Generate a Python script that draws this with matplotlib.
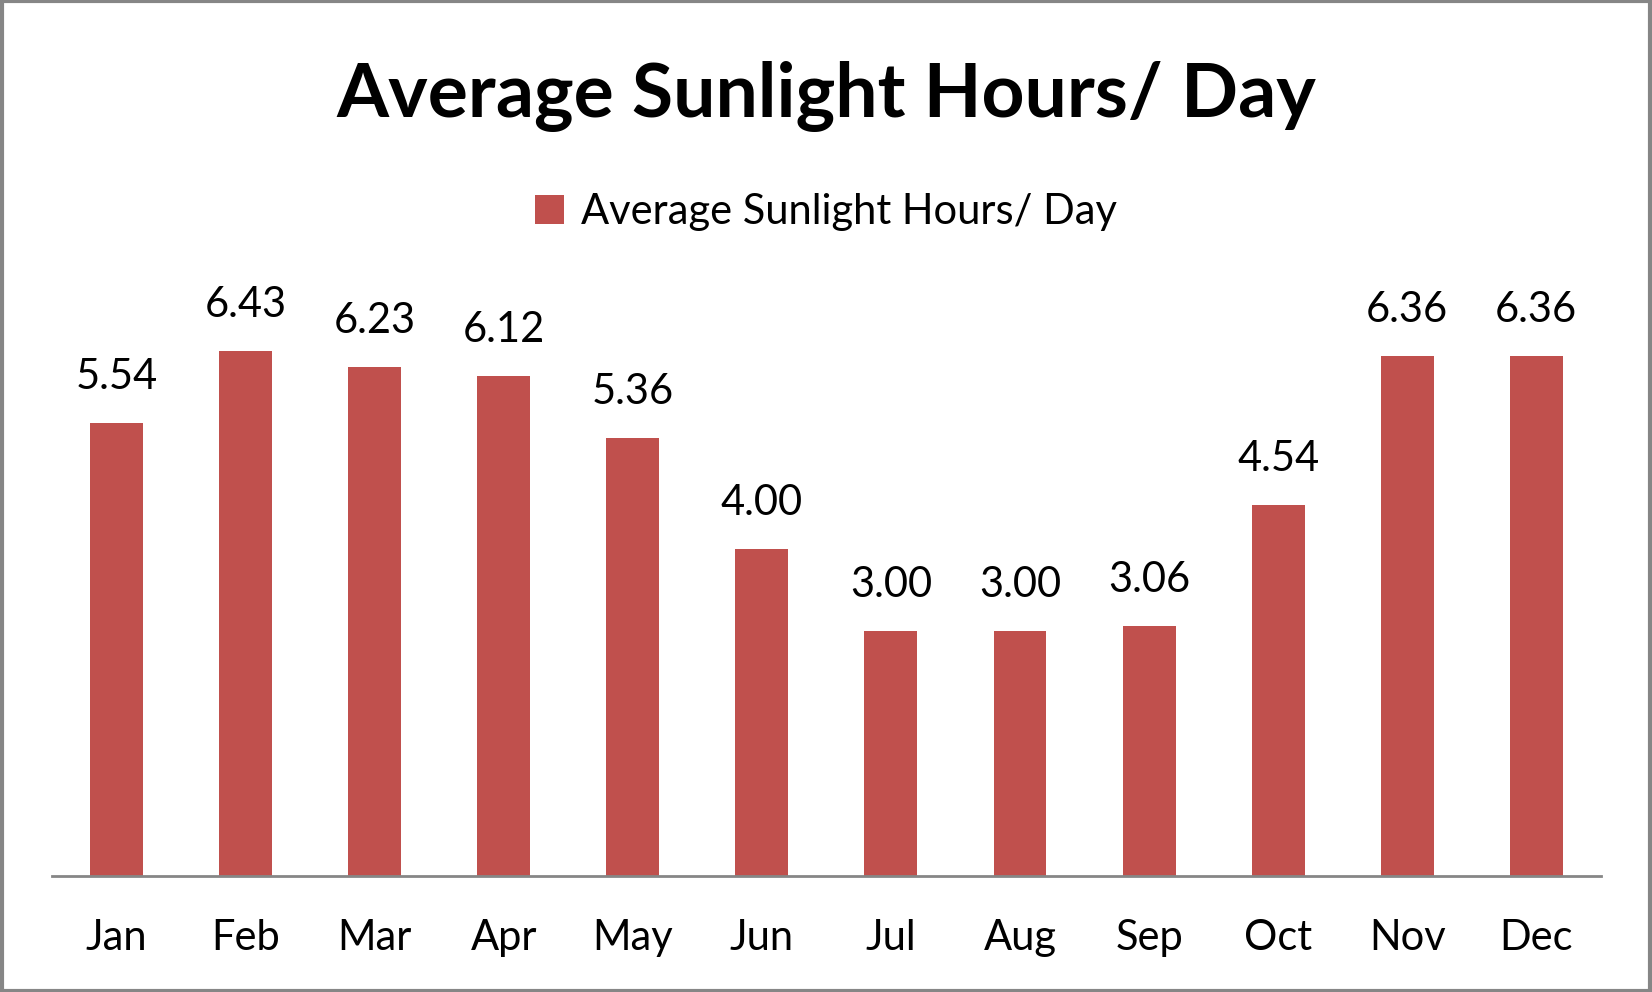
import matplotlib
matplotlib.use("Agg")
import matplotlib.pyplot as plt
from matplotlib.patches import Rectangle

months = ["Jan", "Feb", "Mar", "Apr", "May", "Jun", "Jul", "Aug", "Sep", "Oct", "Nov", "Dec"]
hours = [5.54, 6.43, 6.23, 6.12, 5.36, 4.00, 3.00, 3.00, 3.06, 4.54, 6.36, 6.36]
series_name = "Average Sunlight Hours/ Day"
bar_color = "#C0504D"

plt.rcParams['font.family'] = ['Lato', 'DejaVu Sans']

fig = plt.figure(figsize=(16.52, 9.92), dpi=100)
ax = fig.add_axes([0.0315, 0.117, 0.9375, 0.659])

x = range(len(months))
bars = ax.bar(x, hours, width=0.41, color=bar_color, label=series_name)
for xi, v in zip(x, hours):
    ax.text(xi, v + 0.33, "%.2f" % v, ha='center', va='bottom', fontsize=30)

ax.set_xlim(-0.5, len(months) - 0.5)
ax.set_ylim(0, 8)
ax.set_xticks(list(x))
ax.set_xticklabels(months, fontsize=30)
ax.tick_params(axis='x', length=0, pad=31)
ax.set_yticks([])
for s in ['top', 'right', 'left']:
    ax.spines[s].set_visible(False)
ax.spines['bottom'].set_color('#868686')
ax.spines['bottom'].set_linewidth(2)

fig.text(0.5, 0.903, series_name, ha='center', va='center', fontsize=54, fontweight='bold')

leg = fig.legend(handles=[bars], labels=[series_name], loc='center', bbox_to_anchor=(0.5, 0.786),
                 frameon=False, fontsize=30, handlelength=0.7, handleheight=0.7, handletextpad=0.4)

fig.patches.append(Rectangle((0.001, 0.001), 0.998, 0.998, transform=fig.transFigure,
                             fill=False, edgecolor='#868686', linewidth=3))

fig.savefig("out.png", dpi=100)
